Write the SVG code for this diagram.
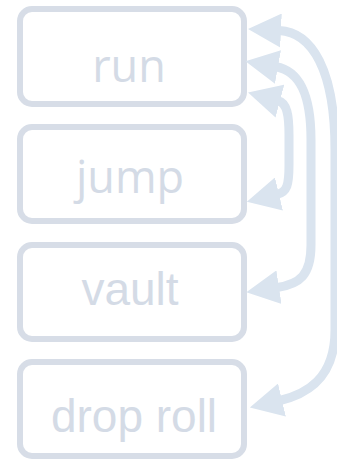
<svg xmlns="http://www.w3.org/2000/svg" width="337" height="459" viewBox="0 0 337 459">
  <style>
    .box { fill: #ffffff; stroke: #d7dde7; stroke-width: 6; }
    .lbl { fill: #d4dbe6; font-size: 46px; text-anchor: middle; }
    .hum { font-family: "Open Sans", "Noto Sans", sans-serif; font-size: 45px; }
    .grot { font-family: "Liberation Sans", Arial, sans-serif; }
    .link { fill: none; stroke: #dae4ef; stroke-width: 9; marker-start: url(#head); marker-end: url(#head); }
  </style>
  <defs>
    <marker id="head" viewBox="0 0 33 34" refX="2" refY="17" markerWidth="33" markerHeight="34" markerUnits="userSpaceOnUse" orient="auto-start-reverse">
      <path d="M0,0 L33,17 L0,34 Z" fill="#dae4ef"/>
    </marker>
  </defs>
  <rect width="337" height="459" fill="#ffffff"/>

  <g id="run">
    <rect class="box" x="20" y="9" width="224" height="95" rx="12"/>
    <text class="lbl hum" x="129" y="82">run</text>
  </g>
  <g id="jump">
    <rect class="box" x="20" y="127" width="224" height="94" rx="12"/>
    <text class="lbl hum" x="130" y="193">jump</text>
  </g>
  <g id="vault">
    <rect class="box" x="20" y="245" width="224" height="94" rx="12"/>
    <text class="lbl grot" x="130" y="305">vault</text>
  </g>
  <g id="drop-roll">
    <rect class="box" x="20" y="362" width="224" height="94" rx="12"/>
    <text class="lbl grot" x="134" y="432">drop roll</text>
  </g>

  <g id="links">
    <!-- run <-> drop roll -->
    <path class="link" d="M279,30.5 C312,32 335,70 335,150 L335,330 C335,380 305,394.6 280,400.5"/>
    <!-- run <-> vault -->
    <path class="link" d="M276,66.7 C300,71 311,95 311,140 L311,245 C311,275 300,284 277,287.5"/>
    <!-- run <-> jump -->
    <path class="link" d="M278,100.6 C287,103 289,115 289,135 L289,165 C289,185 287,192 277,194.4"/>
  </g>
</svg>
